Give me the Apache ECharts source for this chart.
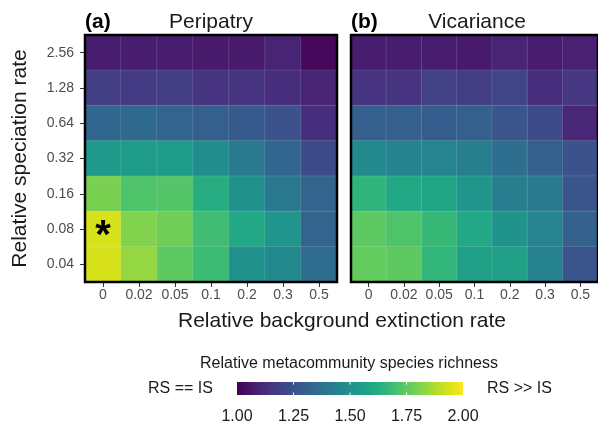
<!DOCTYPE html>
<html><head><meta charset="utf-8">
<script src="https://cdn.jsdelivr.net/npm/echarts@6/dist/echarts.min.js"></script>
<style>html,body{margin:0;padding:0;background:#fff}#c{width:598px;height:424px}</style>
</head><body><div id="c"></div>
<script>
// categories
const extinctionRates = ['0', '0.02', '0.05', '0.1', '0.2', '0.3', '0.5'];
const speciationRates = ['0.04', '0.08', '0.16', '0.32', '0.64', '1.28', '2.56']; // bottom to top
// values, rows listed top (2.56) to bottom (0.04)
const peripatry = [
  [1.08, 1.08, 1.08, 1.07, 1.07, 1.10, 1.02],
  [1.18, 1.17, 1.18, 1.15, 1.15, 1.13, 1.10],
  [1.33, 1.34, 1.32, 1.30, 1.28, 1.25, 1.13],
  [1.54, 1.55, 1.55, 1.48, 1.41, 1.33, 1.23],
  [1.80, 1.72, 1.73, 1.62, 1.50, 1.40, 1.32],
  [1.94, 1.81, 1.78, 1.69, 1.60, 1.52, 1.32],
  [1.94, 1.84, 1.75, 1.68, 1.50, 1.47, 1.35]
];
const vicariance = [
  [1.08, 1.08, 1.08, 1.07, 1.10, 1.08, 1.09],
  [1.15, 1.15, 1.19, 1.18, 1.20, 1.13, 1.16],
  [1.30, 1.30, 1.29, 1.30, 1.26, 1.23, 1.11],
  [1.47, 1.44, 1.45, 1.43, 1.36, 1.30, 1.25],
  [1.65, 1.60, 1.59, 1.52, 1.42, 1.41, 1.26],
  [1.75, 1.72, 1.67, 1.60, 1.51, 1.45, 1.31],
  [1.76, 1.75, 1.66, 1.57, 1.57, 1.44, 1.26]
];
const colorbarTicks = [1.00, 1.25, 1.50, 1.75, 2.00];
const panelTitles = ['Peripatry', 'Vicariance'];
const panelTags = ['(a)', '(b)'];
const starCell = ['0', '0.08'];

const viridis = ['#440154','#471365','#482475','#463480','#414487','#3b528b','#355f8d','#2f6c8e','#2a788e','#25848e','#21918c','#1e9c89','#22a884','#2fb47c','#44bf70','#5ec962','#7ad151','#9bd93c','#bddf26','#dfe318','#fde725'];

function toData(rows, withStar) {
  const out = [];
  rows.forEach((row, r) => {
    const yi = speciationRates.length - 1 - r;
    row.forEach((v, xi) => {
      const item = { value: [xi, yi, v] };
      if (withStar && extinctionRates[xi] === starCell[0] && speciationRates[yi] === starCell[1]) {
        item.label = { show: true, formatter: '*', fontSize: 40, fontWeight: 'bold', color: '#000', offset: [0, 8], fontFamily: 'Liberation Sans' };
      }
      out.push(item);
    });
  });
  return out;
}

const FONT = 'Liberation Sans, Arial, sans-serif';
const grids = [
  { left: 85, top: 35, width: 252, height: 247 },
  { left: 351, top: 35, width: 252, height: 247 }
];
const chart = echarts.init(document.getElementById('c'), null, { renderer: 'canvas' });

// colorbar geometry
const cb = { x: 237, y: 382, w: 226, h: 13 };
const cbMin = colorbarTicks[0], cbMax = colorbarTicks[colorbarTicks.length - 1];
const graphics = [];
graphics.push({
  type: 'rect', shape: { x: cb.x, y: cb.y, width: cb.w, height: cb.h },
  style: { fill: new echarts.graphic.LinearGradient(0, 0, 1, 0, viridis.map((c, i) => ({ offset: i / (viridis.length - 1), color: c }))) }
});
colorbarTicks.forEach((t, i) => {
  const x = cb.x + (t - cbMin) / (cbMax - cbMin) * cb.w;
  if (i > 0 && i < colorbarTicks.length - 1) {
    graphics.push({ type: 'line', shape: { x1: x, y1: cb.y, x2: x, y2: cb.y + 2.5 }, style: { stroke: '#fff', lineWidth: 1 } });
    graphics.push({ type: 'line', shape: { x1: x, y1: cb.y + cb.h - 2.5, x2: x, y2: cb.y + cb.h }, style: { stroke: '#fff', lineWidth: 1 } });
  }
  graphics.push({ type: 'text', x: x, y: 417, style: { text: t.toFixed(2), fill: '#1a1a1a', font: '16px ' + FONT, textAlign: 'center', textVerticalAlign: 'middle' } });
});
graphics.push({ type: 'text', x: 349, y: 364, style: { text: 'Relative metacommunity species richness', fill: '#1a1a1a', font: '16px ' + FONT, textAlign: 'center', textVerticalAlign: 'middle' } });
graphics.push({ type: 'text', x: 148, y: 389, style: { text: 'RS == IS', fill: '#1a1a1a', font: '16px ' + FONT, textAlign: 'left', textVerticalAlign: 'middle' } });
graphics.push({ type: 'text', x: 487, y: 389, style: { text: 'RS >> IS', fill: '#1a1a1a', font: '16px ' + FONT, textAlign: 'left', textVerticalAlign: 'middle' } });
graphics.push({ type: 'text', x: 342, y: 321, style: { text: 'Relative background extinction rate', fill: '#1a1a1a', font: '21px ' + FONT, textAlign: 'center', textVerticalAlign: 'middle' } });

const titles = [];
grids.forEach((g, i) => {
  titles.push({ text: panelTags[i], left: g.left, top: 12, padding: 0, textStyle: { fontSize: 21, fontWeight: 'bold', color: '#000', fontFamily: FONT } });
  titles.push({ text: panelTitles[i], left: g.left + g.width / 2, top: 12, padding: 0, textAlign: 'center', textStyle: { fontSize: 21, fontWeight: 'normal', color: '#1a1a1a', fontFamily: FONT } });
});

chart.setOption({
  backgroundColor: '#fff',
  animation: false,
  textStyle: { fontFamily: FONT },
  title: titles,
  grid: grids.map(g => Object.assign({ show: true, z: 10, borderColor: '#000', borderWidth: 2.5, backgroundColor: 'transparent' }, g)),
  xAxis: grids.map((g, i) => ({
    type: 'category', gridIndex: i, data: extinctionRates,
    axisLine: { show: false },
    axisTick: { show: true, alignWithLabel: true, interval: 0, length: 5, lineStyle: { color: '#333' } },
    axisLabel: { color: '#4d4d4d', fontSize: 14, margin: 6, interval: 0, hideOverlap: false, fontFamily: FONT },
    splitLine: { show: false }
  })),
  yAxis: grids.map((g, i) => ({
    type: 'category', gridIndex: i, data: speciationRates,
    axisLine: { show: false },
    axisTick: { show: i === 0, alignWithLabel: true, interval: 0, length: 5, lineStyle: { color: '#333' } },
    axisLabel: { show: i === 0, color: '#4d4d4d', fontSize: 14, margin: 11, interval: 0, fontFamily: FONT },
    name: i === 0 ? 'Relative speciation rate' : '',
    nameLocation: 'middle', nameRotate: 90, nameGap: 54,
    nameTextStyle: { fontSize: 21, color: '#1a1a1a', fontFamily: FONT },
    splitLine: { show: false }
  })),
  visualMap: { show: false, type: 'continuous', min: cbMin, max: cbMax, seriesIndex: [0, 1], inRange: { color: viridis } },
  series: [
    { type: 'heatmap', xAxisIndex: 0, yAxisIndex: 0, data: toData(peripatry, true), itemStyle: { borderColor: 'rgba(255,255,255,0.12)', borderWidth: 1 }, label: { show: false } },
    { type: 'heatmap', xAxisIndex: 1, yAxisIndex: 1, data: toData(vicariance, false), itemStyle: { borderColor: 'rgba(255,255,255,0.12)', borderWidth: 1 }, label: { show: false } }
  ],
  graphic: graphics
});
</script></body></html>
